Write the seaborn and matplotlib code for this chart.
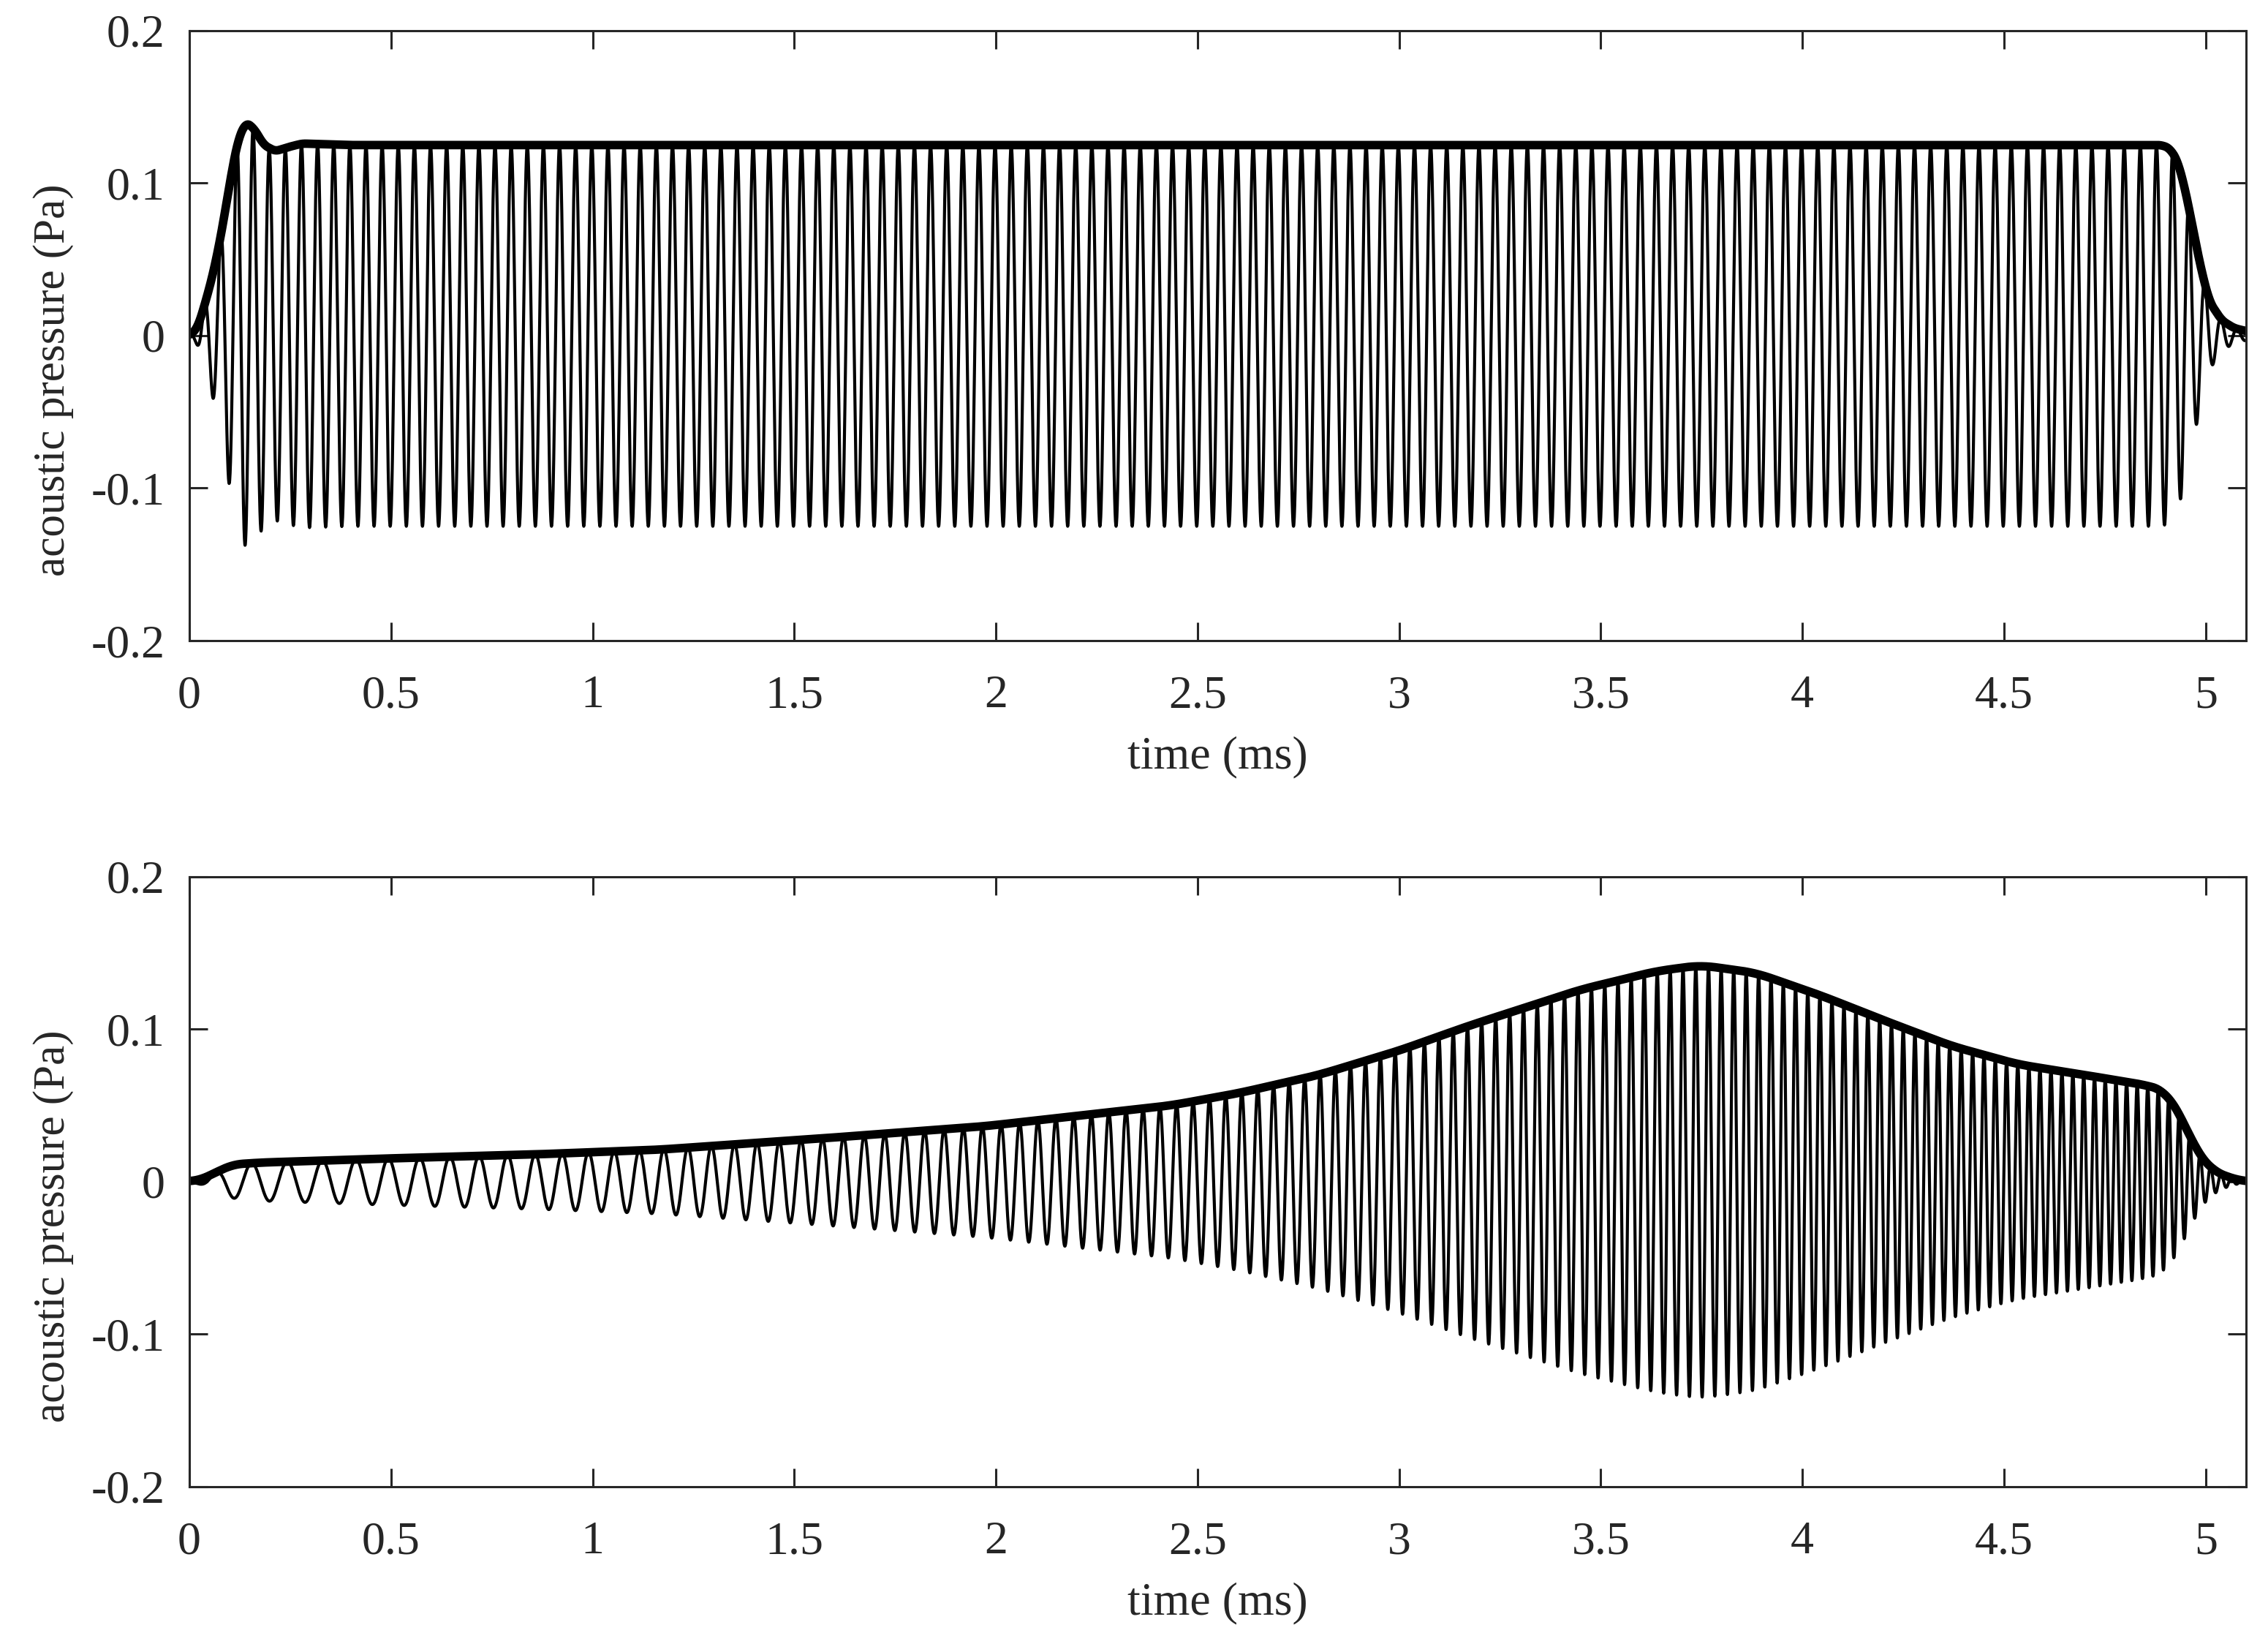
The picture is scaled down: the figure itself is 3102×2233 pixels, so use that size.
import numpy as np
import matplotlib
matplotlib.use("Agg")
import matplotlib.pyplot as plt
import seaborn as sns

# ---- data ----
# upper panel: 25 kHz tone burst, upper envelope (t in ms, p in Pa)
top_env_t = [0, 0.02, 0.04, 0.06, 0.08, 0.1, 0.12, 0.14, 0.16, 0.185,
             0.213, 0.25, 0.28, 0.4, 4.89, 4.91, 4.93, 4.95, 4.97, 4.99,
             5.01, 5.04, 5.07, 5.1]
top_env_p = [0, 0.005, 0.022, 0.042, 0.068, 0.100, 0.128, 0.140, 0.136, 0.125,
             0.121, 0.124, 0.126, 0.125, 0.125, 0.123, 0.115, 0.095, 0.068, 0.042,
             0.022, 0.010, 0.005, 0.003]
top_freq_khz = 25.0
top_trough_ms = 0.138

# lower panel: rising chirp, upper envelope
bot_env_t = [0, 0.044, 0.093, 0.17, 0.46, 0.865, 1.163, 1.567, 1.972, 2.433,
             2.6, 2.8, 3.0, 3.17, 3.45, 3.636, 3.747, 3.884, 4.047, 4.21,
             4.37, 4.534, 4.7, 4.86, 4.907, 4.94, 4.973, 5.006, 5.063, 5.1]
bot_env_p = [0, 0.002, 0.011, 0.0125, 0.015, 0.018, 0.021, 0.0284, 0.0364, 0.050,
             0.058, 0.070, 0.086, 0.102, 0.126, 0.138, 0.142, 0.137, 0.122, 0.105,
             0.089, 0.077, 0.070, 0.063, 0.059, 0.043, 0.021, 0.0087, 0.002, 0.0]
# instantaneous frequency measured from trough spacing
bot_freq_t = [0.25, 1.11, 2.4, 3.85, 4.4, 4.88]
bot_freq_khz = [11.3, 16.2, 24.0, 32.3, 35.2, 38.5]

x_ticks = [0, 0.5, 1, 1.5, 2, 2.5, 3, 3.5, 4, 4.5, 5]
x_tick_labels = ['0', '0.5', '1', '1.5', '2', '2.5', '3', '3.5', '4', '4.5', '5']
y_ticks = [-0.2, -0.1, 0, 0.1, 0.2]
y_tick_labels = ['-0.2', '-0.1', '0', '0.1', '0.2']

# ---- build traces ----
dt = 0.0005
t = np.arange(0, 5.1 + dt, dt)


def envelope(kt, kp, width):
    e = np.interp(t, kt, kp)
    k = int(width / dt) | 1
    pad = k // 2
    ep = np.pad(e, pad, mode='edge')
    return np.convolve(ep, np.ones(k) / k, mode='valid')


top_env = envelope(top_env_t, top_env_p, 0.02)
top_sig = -top_env * np.cos(2 * np.pi * top_freq_khz * (t - top_trough_ms))

bot_env = envelope(bot_env_t, bot_env_p, 0.08)
bot_phase = np.cumsum(np.interp(t, bot_freq_t, bot_freq_khz)) * dt
bot_sig = -bot_env * np.sin(2 * np.pi * bot_phase)

# ---- plot ----
sns.set_style('ticks')
plt.rcParams['font.family'] = ['Liberation Serif', 'DejaVu Serif']
plt.rcParams['axes.unicode_minus'] = False

fig = plt.figure(figsize=(15.51, 11.165), dpi=200)
ax_top = fig.add_axes([0.0835, 0.6077, 0.9068, 0.3735])
ax_bot = fig.add_axes([0.0835, 0.0896, 0.9068, 0.3735])

for ax, sig, env in [(ax_top, top_sig, top_env), (ax_bot, bot_sig, bot_env)]:
    sns.lineplot(x=t, y=sig, ax=ax, color='black', linewidth=1.5,
                 estimator=None, sort=False)
    sns.lineplot(x=t, y=env, ax=ax, color='black', linewidth=4.2,
                 estimator=None, sort=False)
    ax.set_xlim(0, 5.1)
    ax.set_ylim(-0.2, 0.2)
    ax.set_xticks(x_ticks)
    ax.set_xticklabels(x_tick_labels)
    ax.set_yticks(y_ticks)
    ax.set_yticklabels(y_tick_labels)
    ax.tick_params(direction='in', top=True, right=True, length=9, width=1.1,
                   color='#262626', labelsize=23, labelcolor='#262626')
    ax.tick_params(axis='x', pad=17)
    ax.tick_params(axis='y', pad=12)
    for sp in ax.spines.values():
        sp.set_visible(True)
        sp.set_linewidth(1.1)
        sp.set_color('#262626')
    ax.set_xlabel('time (ms)', fontsize=23, color='#262626', labelpad=9)
    ax.set_ylabel('acoustic pressure (Pa)', fontsize=22, color='#262626')
    ax.yaxis.set_label_coords(-0.056, 0.427)

fig.savefig('out.png', dpi=200)
